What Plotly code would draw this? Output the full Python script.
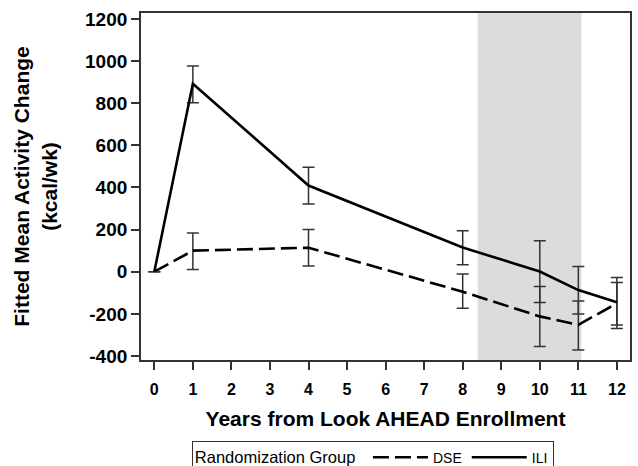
import plotly.graph_objects as go

years = [0, 1, 4, 8, 10, 11, 12]
x_ticks = list(range(0, 13))
y_ticks = [-400, -200, 0, 200, 400, 600, 800, 1000, 1200]

dse_mean = [0, 100, 114, -95, -212, -252, -150]
dse_upper = [None, 184, 200, -11, -70, -139, -51]
dse_lower = [None, 10, 27, -173, -355, -371, -253]

ili_mean = [0, 892, 409, 115, 1, -87, -145]
ili_upper = [None, 977, 496, 195, 147, 25, -27]
ili_lower = [None, 802, 322, 33, -146, -201, -269]

shade_start, shade_end = 8.39, 11.08


def err(mean, up, lo):
    plus = [None if u is None else u - m for m, u in zip(mean, up)]
    minus = [None if l is None else m - l for m, l in zip(mean, lo)]
    return plus, minus


FONT = "Liberation Sans, Arial, sans-serif"
fig = go.Figure()

for name, mean, up, lo, dash in [
    ("DSE", dse_mean, dse_upper, dse_lower, "16px,6px"),
    ("ILI", ili_mean, ili_upper, ili_lower, "solid"),
]:
    p, m = err(mean, up, lo)
    fig.add_trace(go.Scatter(
        x=years, y=mean, name=name, mode="lines",
        line=dict(color="black", width=2.6, dash=dash),
        error_y=dict(type="data", symmetric=False, array=p, arrayminus=m,
                     color="#333333", thickness=1.5, width=6),
    ))

fig.add_shape(type="rect", xref="x", yref="paper", x0=shade_start, x1=shade_end,
              y0=0, y1=1, fillcolor="#dcdcdc", line_width=0, layer="below")

fig.update_layout(
    width=638, height=466,
    margin=dict(l=141, r=8, t=13, b=106, autoexpand=False),
    paper_bgcolor="white", plot_bgcolor="white",
    font=dict(family=FONT, color="black"),
    showlegend=True,
    legend=dict(
        orientation="h", x=0.104, xanchor="left", y=-0.2325, yanchor="top",
        bordercolor="#333333", borderwidth=1, font=dict(size=14, family=FONT),
        itemwidth=55,
        title=dict(text="Randomization Group ", side="left",
                   font=dict(size=16.5, family=FONT)),
        traceorder="normal",
    ),
    xaxis=dict(
        range=[-0.345, 12.34], tickvals=x_ticks, ticktext=[str(v) for v in x_ticks],
        ticks="outside", ticklen=8, tickwidth=1.5, tickcolor="#333333",
        ticklabelstandoff=6,
        showline=True, linecolor="#333333", linewidth=1.8, mirror=True,
        showgrid=False, zeroline=False,
        tickfont=dict(size=16, family=FONT, weight="bold"),
        title=dict(text="Years from Look AHEAD Enrollment", standoff=14,
                   font=dict(size=21, family=FONT, weight="bold")),
    ),
    yaxis=dict(
        range=[-419, 1228], tickvals=y_ticks, ticktext=[str(v) for v in y_ticks],
        ticks="outside", ticklen=8, tickwidth=1.5, tickcolor="#333333",
        showline=True, linecolor="#333333", linewidth=1.8, mirror=True,
        showgrid=False, zeroline=False,
        tickfont=dict(size=19, family=FONT, weight="bold"),
        title=dict(text="Fitted Mean Activity Change<br>(kcal/wk)", standoff=22,
                   font=dict(size=21, family=FONT, weight="bold")),
    ),
)

fig.write_html("out.html", config={"displayModeBar": False},
               post_script="document.body.style.margin='0';")
